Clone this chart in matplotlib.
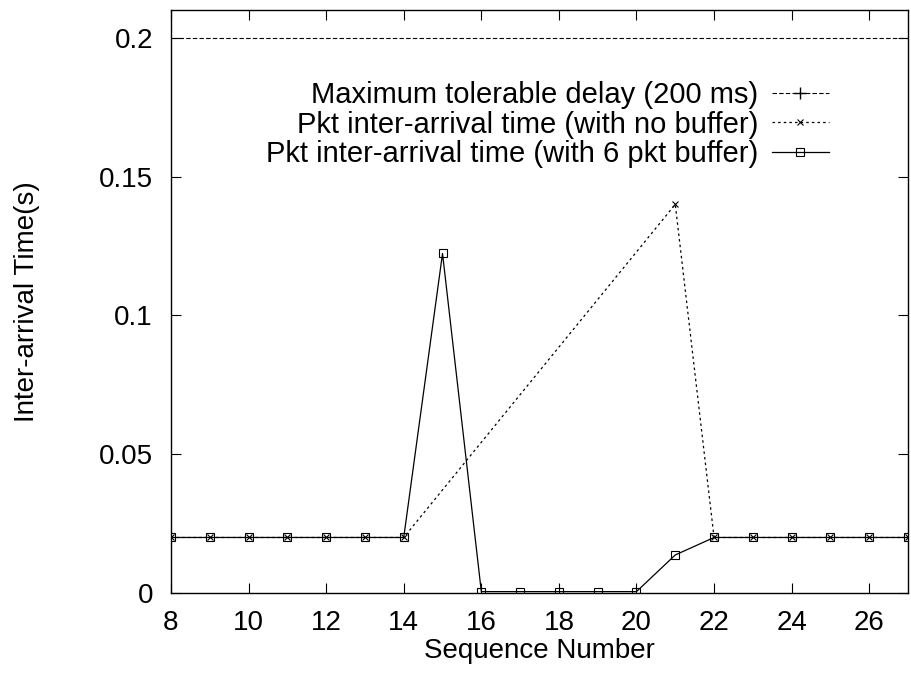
import numpy as np
import matplotlib.pyplot as plt

plt.rcParams['font.family'] = ['Liberation Sans', 'DejaVu Sans']

# data
seq_all = [8, 9, 10, 11, 12, 13, 14, 15, 16, 17, 18, 19, 20, 21, 22, 23, 24, 25, 26, 27]
buf6 = [0.02, 0.02, 0.02, 0.02, 0.02, 0.02, 0.02, 0.1223, 0.0005, 0.0005, 0.0005, 0.0005, 0.0005,
        0.0137, 0.02, 0.02, 0.02, 0.02, 0.02, 0.02]
seq_nobuf = [8, 9, 10, 11, 12, 13, 14, 21, 22, 23, 24, 25, 26, 27]
nobuf = [0.02, 0.02, 0.02, 0.02, 0.02, 0.02, 0.02, 0.14, 0.02, 0.02, 0.02, 0.02, 0.02, 0.02]
max_x = [0, 40]
max_delay = [0.2, 0.2]

fig = plt.figure(figsize=(9.11, 6.75), dpi=100)
ax = fig.add_axes([171 / 911, 1 - 593 / 675, (908 - 171) / 911, (593 - 10) / 675])

ax.plot(max_x, max_delay, color='black', lw=0.8, ls=(0, (4, 2)), marker='+', markersize=8,
        label='Maximum tolerable delay (200 ms)')
ax.plot(seq_nobuf, nobuf, color='black', lw=0.9, ls=(0, (2, 2.5)), marker='x', markersize=5,
        markeredgewidth=0.8, label='Pkt inter-arrival time (with no buffer)')
ax.plot(seq_all, buf6, color='black', lw=0.9, marker='s', markersize=5.5, markerfacecolor='none',
        markeredgewidth=0.8, label='Pkt inter-arrival time (with 6 pkt buffer)')

ax.set_xlim(8, 27)
ax.set_ylim(0, 0.21)
ax.set_xticks(np.arange(8, 27, 2))
ax.set_yticks([0, 0.05, 0.1, 0.15, 0.2])
ax.set_yticklabels(['0', '0.05', '0.1', '0.15', '0.2'])
ax.tick_params(direction='in', top=True, right=True, labelsize=20, length=7)
ax.tick_params(axis='y', pad=13)
ax.tick_params(axis='x', pad=12)
for s in ax.spines.values():
    s.set_linewidth(1.0)

ax.set_xlabel('Sequence Number', fontsize=20)
ax.set_ylabel('Inter-arrival Time(s)', fontsize=20)
ax.xaxis.set_label_coords(0.5, -0.078)
ax.yaxis.set_label_coords(-0.178, 0.5)

leg = ax.legend(loc='upper right', bbox_to_anchor=(0.912, 0.903), frameon=False, markerfirst=False,
                fontsize=21, handlelength=1.95, handletextpad=0.45, labelspacing=0.05, borderpad=0)
for t in leg.get_texts():
    t.set_ha('right')
leg._legend_box.align = 'right'

fig.savefig('out.png', dpi=100)
